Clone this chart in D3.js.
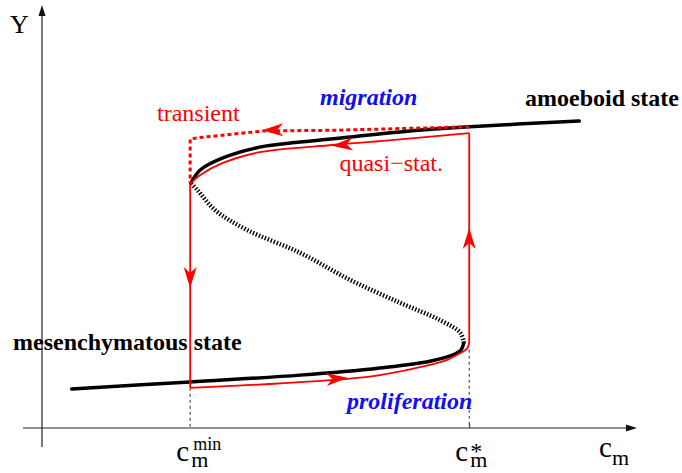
<!DOCTYPE html>
<html>
<head>
<meta charset="utf-8">
<script src="https://cdn.jsdelivr.net/npm/d3@7"></script>
<style>
  body { margin: 0; background: #fff; }
  svg { display: block; font-family: "Liberation Serif", "Times New Roman", serif; }
</style>
</head>
<body>
<div id="chart"></div>
<script>
// chart values (arbitrary units)
var cMin = 2.49, cStar = 7.18;

// stable lower branch (mesenchymatous)
var lowerC = [0.50, 2.49, 4.34, 5.68, 6.52, 6.94, 7.04, 7.09];
var lowerY = [0.92, 1.09, 1.25, 1.42, 1.58, 1.75, 1.84, 2.01];

// unstable middle branch
var middleC = [7.09, 7.03, 6.69, 6.02, 5.18, 4.34, 3.45, 2.91, 2.61, 2.50];
var middleY = [2.01, 2.25, 2.55, 2.96, 3.50, 4.14, 4.68, 5.15, 5.63, 5.79];

// stable upper branch (amoeboid)
var upperC = [2.50, 2.66, 3.03, 3.66, 4.34, 5.18, 6.02, 7.19, 9.03];
var upperY = [5.79, 6.10, 6.38, 6.64, 6.76, 6.88, 7.00, 7.12, 7.26];

// quasi-stationary cycle (red, solid)
var cycleC = [2.49, 2.49, 3.83, 5.13, 5.68, 6.52, 6.81, 7.03, 7.14, 7.18, 7.18, 5.68, 4.89, 3.66, 3.03, 2.66, 2.49];
var cycleY = [5.77, 0.95, 1.04, 1.16, 1.25, 1.49, 1.61, 1.77, 1.87, 2.01, 6.97, 6.78, 6.69, 6.52, 6.26, 5.98, 5.77];

// transient path (red, dotted)
var transC = [7.18, 4.96, 3.71, 2.61, 2.49, 2.49];
var transY = [7.12, 7.04, 7.02, 6.86, 6.83, 5.79];

// arrow heads along the red paths: tip and direction (degrees)
var arrowC = [2.49, 7.18, 5.13, 4.87, 3.70];
var arrowY = [3.31, 4.73, 1.19, 6.67, 7.04];
var arrowA = [90, -90, -5, 175, 179];

// tick labels on the c_m axis: value and superscript
var tickVals = [cMin, cStar];
var tickSups = ["min", "*"];

var width = 682, height = 473;

var x = d3.scaleLinear().domain([0, 10]).range([42, 637]);
var y = d3.scaleLinear().domain([0, 10]).range([428, 5]);

var svg = d3.select("#chart").append("svg")
    .attr("width", width)
    .attr("height", height);

var zip = function(cs, ys) { return cs.map(function(c, i) { return [c, ys[i]]; }); };

var line = d3.line()
    .curve(d3.curveCatmullRom.alpha(0.5))
    .x(function(d) { return x(d[0]); })
    .y(function(d) { return y(d[1]); });

var poly = d3.line()
    .x(function(d) { return x(d[0]); })
    .y(function(d) { return y(d[1]); });

// axes
svg.append("line")
    .attr("x1", x(-0.32)).attr("x2", x(9.85))
    .attr("y1", y(0)).attr("y2", y(0))
    .attr("stroke", "#222").attr("stroke-width", 1.2);
svg.append("path")
    .attr("d", "M0,0 L-11,-3.5 L-11,3.5 Z")
    .attr("transform", "translate(" + x(10) + "," + y(0) + ")")
    .attr("fill", "#111");

svg.append("line")
    .attr("x1", x(0)).attr("x2", x(0))
    .attr("y1", y(-0.45)).attr("y2", y(9.75))
    .attr("stroke", "#222").attr("stroke-width", 1.2);
svg.append("path")
    .attr("d", "M0,0 L-11,-3.5 L-11,3.5 Z")
    .attr("transform", "translate(" + x(0) + "," + y(10) + ") rotate(-90)")
    .attr("fill", "#111");

// small tick at c*
svg.append("g")
    .attr("transform", "translate(0," + y(0) + ")")
    .call(d3.axisTop(x).tickValues([cStar]).tickSize(4).tickFormat(""))
    .call(function(g) { g.select(".domain").remove(); })
    .selectAll("line").attr("stroke", "#222");

// dashed guides
svg.append("line")
    .attr("x1", x(cMin)).attr("x2", x(cMin))
    .attr("y1", y(0.95)).attr("y2", y(0))
    .attr("stroke", "#333").attr("stroke-width", 1).attr("stroke-dasharray", "3,3");
svg.append("line")
    .attr("x1", x(cStar)).attr("x2", x(cStar))
    .attr("y1", y(1.85)).attr("y2", y(0))
    .attr("stroke", "#333").attr("stroke-width", 1).attr("stroke-dasharray", "3,3");

// S-shaped curve
svg.append("path")
    .attr("d", line(zip(middleC, middleY)))
    .attr("fill", "none").attr("stroke", "#000")
    .attr("stroke-width", 4.5).attr("stroke-dasharray", "1.4,1.8");
svg.append("path")
    .attr("d", line(zip(lowerC, lowerY)))
    .attr("fill", "none").attr("stroke", "#000")
    .attr("stroke-width", 3.5).attr("stroke-linecap", "round");
svg.append("path")
    .attr("d", line(zip(upperC, upperY)))
    .attr("fill", "none").attr("stroke", "#000")
    .attr("stroke-width", 3.5).attr("stroke-linecap", "round");

// red paths
svg.append("path")
    .attr("d", poly(zip(transC, transY)))
    .attr("fill", "none").attr("stroke", "#ff0000")
    .attr("stroke-width", 3).attr("stroke-dasharray", "4,3");
svg.append("path")
    .attr("d", line(zip(cycleC.slice(1, 10), cycleY.slice(1, 10))))
    .attr("fill", "none").attr("stroke", "#ff0000").attr("stroke-width", 1.8);
svg.append("path")
    .attr("d", line(zip(cycleC.slice(10), cycleY.slice(10))))
    .attr("fill", "none").attr("stroke", "#ff0000").attr("stroke-width", 1.8);
svg.append("path")
    .attr("d", poly([[cycleC[0], cycleY[0]], [cycleC[1], cycleY[1]]]))
    .attr("fill", "none").attr("stroke", "#ff0000").attr("stroke-width", 1.8);
svg.append("path")
    .attr("d", poly([[cycleC[9], cycleY[9]], [cycleC[10], cycleY[10]]]))
    .attr("fill", "none").attr("stroke", "#ff0000").attr("stroke-width", 1.8);

svg.selectAll(".arrow")
    .data(d3.range(arrowC.length))
  .enter().append("path")
    .attr("class", "arrow")
    .attr("d", "M0,0 L-21,-6.5 L-15,0 L-21,6.5 Z")
    .attr("transform", function(i) {
      return "translate(" + x(arrowC[i]) + "," + y(arrowY[i]) + ") rotate(" + arrowA[i] + ")";
    })
    .attr("fill", "#ff0000");

// labels
var label = function(t, px, py, size, fill, weight, style, anchor) {
  return svg.append("text")
    .attr("x", px).attr("y", py)
    .attr("font-size", size)
    .attr("fill", fill)
    .attr("font-weight", weight || "normal")
    .attr("font-style", style || "normal")
    .attr("text-anchor", anchor || "start")
    .text(t);
};

label("Y", 10, 33, 26, "#000");
label("transient", 157, 121, 24, "#ff0000");
label("migration", 320, 105, 24, "#1010f0", "bold", "italic");
label("amoeboid state", 679, 106, 24, "#000", "bold", null, "end");
label("quasi\u2212stat.", 443, 171, 24, "#ff0000", null, null, "end");
label("mesenchymatous state", 13, 350, 24, "#000", "bold");
label("proliferation", 347, 409, 24, "#1010f0", "bold", "italic");

// tick labels: c with subscript m and a superscript, one text each
tickVals.forEach(function(v, i) {
  var t = svg.append("text")
      .attr("x", x(v) - 14).attr("y", 461)
      .attr("font-size", 29).attr("fill", "#000");
  t.append("tspan").text("c");
  t.append("tspan").attr("x", x(v) + 1).attr("y", 467).attr("font-size", 22).text("m");
  t.append("tspan").attr("x", x(v) + (i === 0 ? 3 : 1)).attr("y", i === 0 ? 450 : 459)
      .attr("font-size", i === 0 ? 18 : 24).text(tickSups[i]);
});

// axis label
var cl = svg.append("text").attr("x", 599).attr("y", 457).attr("font-size", 29).attr("fill", "#000");
cl.append("tspan").text("c");
cl.append("tspan").attr("x", 612).attr("y", 465).attr("font-size", 22).text("m");
</script>
</body>
</html>
